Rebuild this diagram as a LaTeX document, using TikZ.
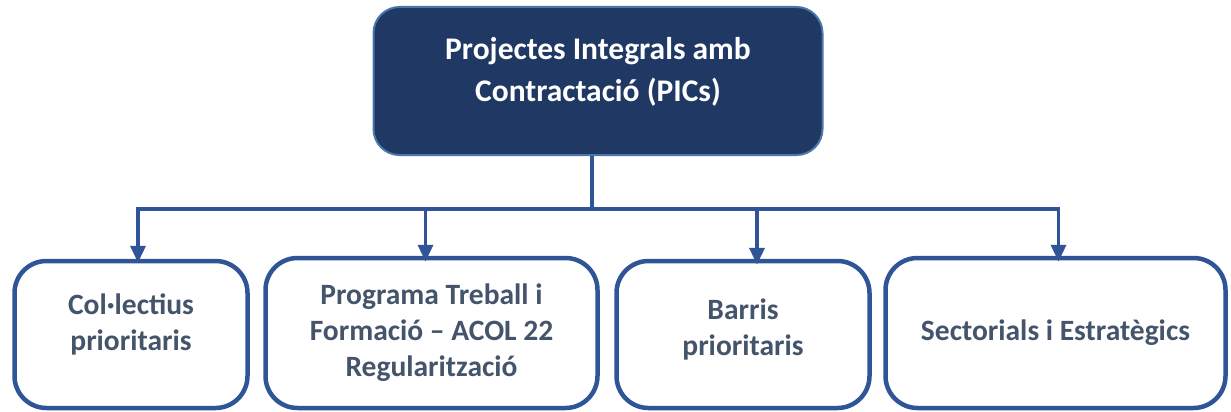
\documentclass[tikz,border=0pt]{standalone}
\usepackage{fontspec}
\setmainfont{Carlito}
\usetikzlibrary{arrows.meta}
\definecolor{navy}{HTML}{203864}
\definecolor{edgeblue}{HTML}{2F5597}
\definecolor{rimblue}{HTML}{4A76A8}
\definecolor{slate}{HTML}{44546A}
\begin{document}
\begin{tikzpicture}[x=1pt, y=-1pt,
    topbox/.style={draw=rimblue, line width=2pt, fill=navy, rounded corners=26pt,
        text=white, font=\fontsize{31.5}{42}\selectfont\bfseries, align=center},
    subbox/.style={draw=edgeblue, line width=4.5pt, fill=white, rounded corners=32pt,
        text=slate, font=\fontsize{29.5}{36}\selectfont\bfseries, align=center},
    link/.style={draw=edgeblue, line width=3.5pt},
    arrow/.style={link, -{Triangle[width=15pt,length=17pt]}}]
    \useasboundingbox (0,0) rectangle (1231,412);
    \node[topbox, minimum width=449pt, minimum height=148pt] (pics) at (598,81)
        {Projectes Integrals amb\\Contractació (PICs)\\[-18pt]};
    \node[subbox, minimum width=233pt, minimum height=147pt] (col) at (131,334.5)
        {Col·lectius\\prioritaris\\[-12pt]};
    \node[subbox, minimum width=332pt, minimum height=150pt] (ptf) at (431.5,333)
        {Programa Treball i\\Formació -- ACOL 22\\Regularització};
    \node[subbox, minimum width=253pt, minimum height=147pt] (bar) at (743,334.5)
        {Barris\\prioritaris\\[-22pt]};
    \node[subbox, minimum width=340pt, minimum height=150pt] (sec) at (1055.5,333)
        {Sectorials i Estratègics};
    % branching lines
    \coordinate (bus) at (592,209);
    \draw[link] ([xshift=-6pt]pics.south) -- (bus);
    \draw[arrow] (bus) -| ([xshift=7pt,yshift=-4pt]col.north);
    \draw[arrow] (bus) -| ([xshift=-6pt,yshift=-6pt]ptf.north);
    \draw[arrow] (bus) -| ([xshift=14pt,yshift=-6pt]bar.north);
    \draw[arrow] (bus) -| ([xshift=3pt,yshift=-6pt]sec.north);
\end{tikzpicture}
\end{document}
